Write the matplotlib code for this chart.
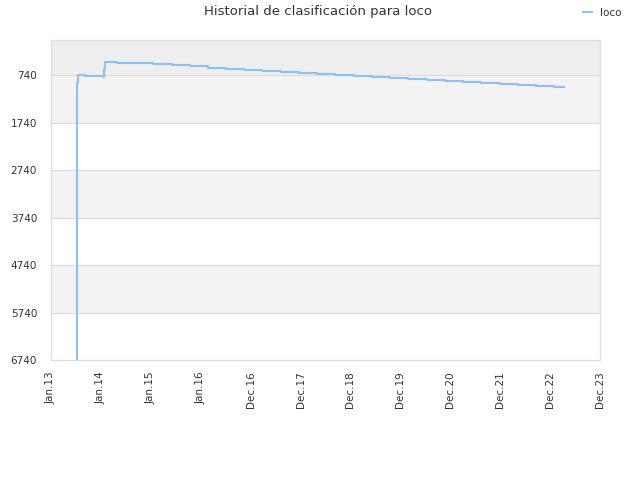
import matplotlib

matplotlib.use("Agg")

import matplotlib.pyplot as plt
import pandas as pd

TITLE = "Historial de clasificación para loco"
SERIES_NAME = "loco"

# step changes: date the rank starts, rank held until the next date
rank_dates = [
    "2013-07-08", "2013-07-09", "2013-07-14", "2013-09-07", "2014-01-19",
    "2014-01-25", "2014-01-30", "2014-04-27", "2014-09-07", "2015-01-17",
    "2015-06-03", "2015-10-15", "2016-02-23", "2016-07-04", "2016-11-13",
    "2017-03-24", "2017-08-10", "2017-12-20", "2018-05-01", "2018-09-09",
    "2019-01-26", "2019-06-07", "2019-10-17", "2020-02-25", "2020-07-13",
    "2020-11-22", "2021-04-03", "2021-08-12", "2021-12-29", "2022-05-10",
    "2022-09-19", "2023-01-29", "2023-04-12",
]
ranks = [
    6740, 914, 740, 761, 782,
    620, 460, 481, 494, 515,
    536, 557, 586, 607, 628,
    649, 671, 692, 713, 740,
    767, 788, 809, 831, 852,
    873, 894, 915, 936, 957,
    978, 999, 999,
]

y_ticks = [740, 1740, 2740, 3740, 4740, 5740, 6740]
y_top = 1
y_bottom = 6740

tick_dates = [
    "2013-01-01", "2014-01-01", "2015-01-01", "2016-01-01", "2016-12-31",
    "2017-12-31", "2018-12-31", "2019-12-31", "2020-12-30", "2021-12-30",
    "2022-12-30", "2023-12-30",
]
tick_labels = [
    "Jan.13", "Jan.14", "Jan.15", "Jan.16", "Dec.16", "Dec.17",
    "Dec.18", "Dec.19", "Dec.20", "Dec.21", "Dec.22", "Dec.23",
]

LINE_COLOUR = "#8fc1f0"
TEXT_COLOUR = "#333333"
GRID_COLOUR = "#dddddd"


def main() -> int:
    fig = plt.figure(figsize=(6.4, 4.8), dpi=100)
    ax = fig.add_axes([51 / 640, 1 - 360 / 480, 549 / 640, 320 / 480])

    x = pd.to_datetime(rank_dates)
    ticks_x = pd.to_datetime(tick_dates)

    # alternating bands between the grid lines
    edges = [y_top] + y_ticks
    band_colours = ["#eeeeee", "#f3f3f3", "#ffffff", "#f3f3f3", "#ffffff", "#f3f3f3", "#ffffff"]
    for (lo, hi), colour in zip(zip(edges[:-1], edges[1:]), band_colours):
        ax.axhspan(lo, hi, color=colour, zorder=0, lw=0)
    for y in y_ticks[:-1]:
        ax.axhline(y, color=GRID_COLOUR, lw=0.9, zorder=1)

    ax.plot(x, ranks, drawstyle="steps-post", color=LINE_COLOUR, lw=1.5, zorder=3, label=SERIES_NAME)

    ax.set_ylim(y_bottom, y_top)
    ax.set_xlim(ticks_x[0], ticks_x[-1])
    ax.set_yticks(y_ticks)
    ax.set_yticklabels([str(v) for v in y_ticks])
    ax.set_xticks(ticks_x)
    ax.set_xticklabels(tick_labels, rotation=90)
    ax.tick_params(axis="both", length=0, labelsize=7.5, labelcolor=TEXT_COLOUR)
    ax.tick_params(axis="y", pad=10)
    ax.tick_params(axis="x", pad=8)
    for spine in ax.spines.values():
        spine.set_color(GRID_COLOUR)
        spine.set_linewidth(0.9)

    fig.text(0.497, 1 - 12 / 480, TITLE, ha="center", va="center", fontsize=9.5, color=TEXT_COLOUR)
    fig.legend(
        loc="center right",
        bbox_to_anchor=(1 - 9 / 640, 1 - 13 / 480),
        frameon=False,
        fontsize=7.5,
        handlelength=0.8,
        handletextpad=0.8,
        labelcolor=TEXT_COLOUR,
    )

    fig.savefig("out.png", facecolor="white")
    plt.close(fig)
    return 0


if __name__ == "__main__":
    raise SystemExit(main())
